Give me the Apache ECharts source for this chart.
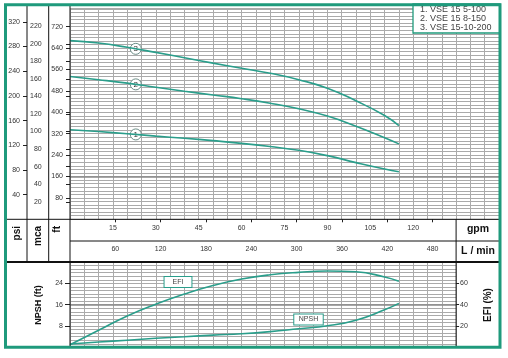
<!DOCTYPE html>
<html><head><meta charset="utf-8">
<script src="https://cdn.jsdelivr.net/npm/echarts@6/dist/echarts.min.js"></script>
<style>html,body{margin:0;padding:0;background:#fff}#c{width:508px;height:358px}</style>
</head><body><div id="c"></div>
<script>
// ---- data ----
const flowGpm  = [0, 10, 20, 30, 40, 50, 60, 70, 80, 90, 100, 110, 115];
const head1Ft  = [335, 328, 320, 311, 303, 294, 284, 272, 258, 238, 212, 188, 178];
const head2Ft  = [534, 522, 509, 494, 479, 465, 451, 434, 413, 386, 348, 305, 282];
const head3Ft  = [668, 659, 643, 624, 604, 584, 565, 546, 522, 490, 443, 388, 350];
const efiPct   = [2.5, 16, 29.5, 40.5, 50, 58, 64, 68, 70.3, 71.5, 70.8, 66, 62];
const npshFt   = [1.3, 2.0, 2.7, 3.4, 4.0, 4.6, 5.1, 5.9, 7.0, 8.1, 10.2, 14.1, 16.5];
const curveNames = ['1', '2', '3'];
const legendLines = ['1. VSE 15 5-100', '2. VSE 15 8-150', '3. VSE 15-10-200'];
const markerFlowGpm = 23;
const gpmTicks  = [15, 30, 45, 60, 75, 90, 105, 120];
const lpmTicks  = [60, 120, 180, 240, 300, 360, 420, 480];
const psiTicks  = [40, 80, 120, 160, 200, 240, 280, 320];
const mcaTicks  = [20, 40, 60, 80, 100, 120, 140, 160, 180, 200, 220];
const ftTicks   = [80, 160, 240, 320, 400, 480, 560, 640, 720];
const npshTicks = [8, 16, 24];
const efiTicks  = [20, 40, 60];

// ---- styling / layout ----
const TEAL = '#2a9e8b', FRAME = '#1f9a7c', GRIDC = '#aaaaaa', DARKG = '#8a8a8a', TXT = '#333';
const FONT = 'Liberation Sans, Arial, sans-serif';
const MCA_MAX = 240, FT_MAX = MCA_MAX * 3.28084, PSI_MAX = MCA_MAX * 1.42233;
const GPM_MAX_TOP = 150, GPM_MAX_BOT = 135, LPM_MAX = GPM_MAX_TOP * 3.78541;
const L = 70, TOP_T = 8.7, TOP_B = 219.3, BOT_T = 262, BOT_B = 347.4;
const PX_PER_GPM = 429 / 150;

function pairs(ys) { return flowGpm.map((x, i) => [x, ys[i]]); }
function interp(ys, x) {
  for (let i = 1; i < flowGpm.length; i++) {
    if (x <= flowGpm[i]) {
      const t = (x - flowGpm[i - 1]) / (flowGpm[i] - flowGpm[i - 1]);
      return ys[i - 1] + t * (ys[i] - ys[i - 1]);
    }
  }
  return ys[ys.length - 1];
}
const labStyle = { fontSize: 7, color: TXT, fontFamily: FONT };

function hiddenGridAxis(gridIndex, max, interval) {
  return { type: 'value', gridIndex, min: 0, max, interval, show: true,
    axisLine: { show: false }, axisTick: { show: false }, axisLabel: { show: false },
    splitLine: { show: true, lineStyle: { color: GRIDC, width: 1 } } };
}
function leftAxis(max, ticks, offset) {
  return { type: 'value', gridIndex: 0, position: 'left', offset, min: 0, max,
    axisLine: { show: false },
    axisTick: { show: true, length: 4, customValues: ticks, lineStyle: { color: '#222' } },
    axisLabel: Object.assign({ customValues: ticks, margin: 7 }, labStyle),
    splitLine: { show: false } };
}
const heads = [head1Ft, head2Ft, head3Ft];

const series = heads.map((h, i) => ({
  type: 'line', xAxisIndex: 0, yAxisIndex: 0, data: pairs(h), smooth: 0.5,
  symbol: 'none', lineStyle: { color: TEAL, width: 1.6 }, z: 5,
  markPoint: {
    symbol: 'circle', symbolSize: 11, silent: true,
    itemStyle: { color: '#fff', borderColor: '#6e8f89', borderWidth: 1 },
    label: { show: true, position: 'inside', formatter: curveNames[i], fontSize: 8, color: TXT, fontFamily: FONT },
    data: [{ coord: [markerFlowGpm, interp(h, markerFlowGpm)] }]
  },
  markLine: i === 0 ? { silent: true, symbol: 'none', label: { show: false },
    lineStyle: { color: DARKG, width: 1.6, type: 'solid' }, data: [{ yAxis: 160 }] } : undefined
}));
series.push({
  type: 'line', xAxisIndex: 2, yAxisIndex: 5, data: pairs(efiPct), smooth: 0.5,
  symbol: 'none', lineStyle: { color: TEAL, width: 1.6 }, z: 5
});
series.push({
  type: 'line', xAxisIndex: 2, yAxisIndex: 4, data: pairs(npshFt), smooth: 0.5,
  symbol: 'none', lineStyle: { color: TEAL, width: 1.6 }, z: 5,
  markLine: { silent: true, symbol: 'none', label: { show: false },
    lineStyle: { color: DARKG, width: 1.6, type: 'solid' }, data: [{ yAxis: 16 }] }
});

function line(x1, y1, x2, y2, w, c) {
  return { type: 'line', shape: { x1, y1, x2, y2 }, style: { stroke: c || '#111', lineWidth: w || 1 }, z: 50, silent: true };
}
function vtext(t, x, y, size, align) {
  return { type: 'text', x, y, rotation: Math.PI / 2, z: 60, silent: true,
    style: { text: t, align: align || 'center', verticalAlign: 'middle', font: 'bold ' + size + 'px ' + FONT, fill: '#111' } };
}
function htext(t, x, y, size) {
  return { type: 'text', x, y, z: 60, silent: true,
    style: { text: t, align: 'center', verticalAlign: 'middle', font: 'bold ' + size + 'px ' + FONT, fill: '#111' } };
}
function boxText(t, x, y, pad) {
  return { type: 'text', x, y, z: 60, silent: true,
    style: { text: t, align: 'center', verticalAlign: 'middle', font: '7px ' + FONT, fill: '#444',
      backgroundColor: '#fff', borderColor: TEAL, borderWidth: 1, padding: pad } };
}
const R_BOT = L + GPM_MAX_BOT * PX_PER_GPM;

const graphic = [
  // table lines
  line(5, TOP_B, 500, TOP_B, 1),
  line(L, 241, 500, 241, 1),
  line(5, BOT_T, 500, BOT_T, 2.2),
  line(27, 4, 27, BOT_T, 1),
  line(48.7, 4, 48.7, BOT_T, 1),
  line(L, 4, L, 348, 1),
  line(R_BOT, TOP_B, R_BOT, 348, 1),
  // unit labels
  vtext('psi', 17, 226, 10, 'right'),
  vtext('mca', 38, 226, 10, 'right'),
  vtext('ft', 57.5, 226, 10, 'right'),
  htext('gpm', 478, 229, 10.5),
  htext('L / min', 478, 251, 10.5),
  vtext('NPSH (ft)', 38.3, 305, 9),
  vtext('EFI (%)', 488.3, 305, 10),
  boxText('EFI', 178, 282, [1.5, 8]),
  boxText('NPSH', 308.5, 319.5, [1.5, 4.5]),
  // legend
  { type: 'rect', shape: { x: 413, y: 4, width: 87, height: 29 }, z: 55, silent: true,
    style: { fill: '#fff', stroke: FRAME, lineWidth: 1.3 } },
  ...legendLines.map((t, i) => ({ type: 'text', x: 420, y: 9.5 + i * 9, z: 60, silent: true,
    style: { text: t, align: 'left', verticalAlign: 'middle', font: '9px ' + FONT, fill: '#444' } })),
  // frame
  { type: 'rect', shape: { x: 5.5, y: 4.7, width: 494.5, height: 342.5 }, z: 70, silent: true,
    style: { fill: null, stroke: FRAME, lineWidth: 3 } }
];

const option = {
  animation: false,
  backgroundColor: '#fff',
  grid: [
    { left: L, top: TOP_T, width: GPM_MAX_TOP * PX_PER_GPM, height: TOP_B - TOP_T, containLabel: false },
    { left: L, top: BOT_T, width: GPM_MAX_BOT * PX_PER_GPM, height: BOT_B - BOT_T, containLabel: false }
  ],
  xAxis: [
    { type: 'value', gridIndex: 0, min: 0, max: GPM_MAX_TOP, interval: 5, position: 'bottom',
      axisLine: { show: false }, axisTick: { show: false },
      axisLabel: Object.assign({ customValues: gpmTicks, margin: 5 }, labStyle),
      splitLine: { show: true, lineStyle: { color: GRIDC, width: 1 } } },
    { type: 'value', gridIndex: 0, min: 0, max: LPM_MAX, position: 'bottom', offset: 241 - TOP_B,
      axisLine: { show: false },
      axisTick: { show: true, length: 3, customValues: lpmTicks, lineStyle: { color: '#222' } },
      axisLabel: Object.assign({ customValues: lpmTicks, margin: 5 }, labStyle),
      splitLine: { show: false } },
    { type: 'value', gridIndex: 1, min: 0, max: GPM_MAX_BOT, interval: 5,
      axisLine: { show: false }, axisTick: { show: false }, axisLabel: { show: false },
      splitLine: { show: true, lineStyle: { color: GRIDC, width: 1 } } }
  ],
  yAxis: [
    leftAxis(FT_MAX, ftTicks, 0),
    leftAxis(MCA_MAX, mcaTicks, L - 48.7),
    leftAxis(PSI_MAX, psiTicks, L - 27),
    hiddenGridAxis(0, FT_MAX, 40 / 3),
    { type: 'value', gridIndex: 1, position: 'left', min: 0, max: 32,
      axisLine: { show: false },
      axisTick: { show: true, length: 5, customValues: npshTicks, lineStyle: { color: '#222' } },
      axisLabel: Object.assign({ customValues: npshTicks, margin: 7 }, labStyle),
      splitLine: { show: false } },
    { type: 'value', gridIndex: 1, position: 'right', min: 0, max: 80,
      axisLine: { show: false },
      axisTick: { show: true, length: 3, customValues: efiTicks, lineStyle: { color: '#222' } },
      axisLabel: Object.assign({ customValues: efiTicks, margin: 4 }, labStyle),
      splitLine: { show: false } },
    hiddenGridAxis(1, 32, 4 / 3)
  ],
  series,
  graphic
};
echarts.init(document.getElementById('c'), null, { renderer: 'canvas' }).setOption(option);
</script></body></html>
